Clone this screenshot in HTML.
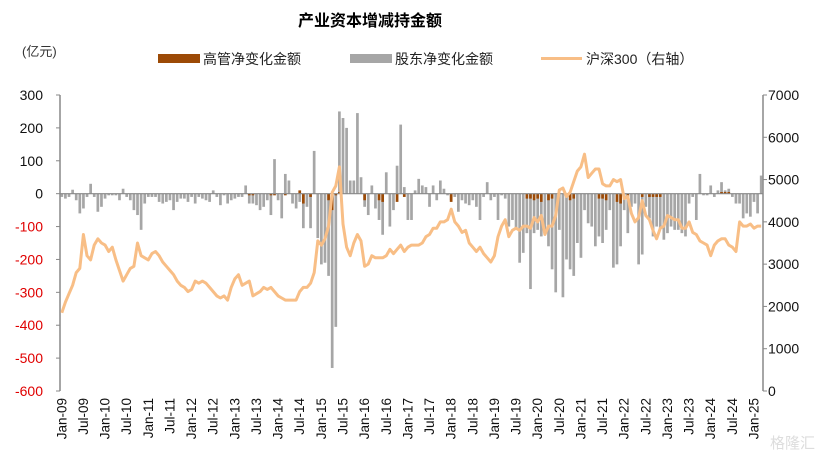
<!DOCTYPE html>
<html><head><meta charset="utf-8"><style>
body{margin:0;background:#fff;}
svg{display:block;font-family:"Liberation Sans","Noto Sans CJK SC",sans-serif;}
</style></head><body>
<svg id="chart" width="830" height="462" viewBox="0 0 830 462">
<text x="370" y="26" text-anchor="middle" font-size="16" font-weight="bold" fill="#000">产业资本增减持金额</text>
<text x="22" y="56" font-size="13" fill="#333">(亿元)</text>
<g>
<rect x="158" y="54" width="42" height="9" fill="#9C4A06"/>
<text x="203" y="64" font-size="14" fill="#222">高管净变化金额</text>
<rect x="350" y="54" width="42" height="9" fill="#A6A6A6"/>
<text x="395" y="64" font-size="14" fill="#222">股东净变化金额</text>
<line x1="541" y1="58.5" x2="582" y2="58.5" stroke="#F8BE86" stroke-width="3"/>
<text x="586" y="64" font-size="14" fill="#222">沪深300（右轴）</text>
</g>
<g id="plot"></g>
<text x="815" y="448" text-anchor="end" font-size="15" fill="#ddd">格隆汇</text>
</svg>
<script>
const leftTicks=[300,200,100,0,-100,-200,-300,-400,-500,-600];
const rightTicks=[0,1000,2000,3000,4000,5000,6000,7000];
const xLabels=["Jan-09","Jul-09","Jan-10","Jul-10","Jan-11","Jul-11","Jan-12","Jul-12","Jan-13","Jul-13","Jan-14","Jul-14","Jan-15","Jul-15","Jan-16","Jul-16","Jan-17","Jul-17","Jan-18","Jul-18","Jan-19","Jul-19","Jan-20","Jul-20","Jan-21","Jul-21","Jan-22","Jul-22","Jan-23","Jul-23","Jan-24","Jul-24","Jan-25"];
const holderValues=[
-10,-15,-10,12,-20,-60,-45,-10,30,-10,-55,-40,
-15,-5,-5,-5,-20,15,-10,-20,-50,-65,-110,-30,
-10,-10,-10,-25,-30,-25,-20,-50,-25,-15,-15,-25,
-10,-30,-10,-15,-20,-25,10,-10,-35,-5,-30,-20,
-15,-10,-10,25,-30,-30,-35,-50,-40,-20,-65,105,
-20,-75,60,40,-30,-45,-25,-105,-40,-105,130,-135,
-215,-210,-250,-530,-405,250,230,200,40,40,245,50,
-40,-65,25,-45,-80,-125,65,-100,-50,85,210,20,
-80,-80,10,45,25,20,-40,25,-20,40,15,-5,
-20,-10,-55,-20,-30,-35,-20,-40,-80,-10,35,-20,
-10,-80,-5,-15,-100,-80,-110,-210,-180,-120,-290,-120,
-110,-130,-110,-160,-230,-300,-110,-315,-200,-230,-250,-150,
-195,-50,-90,-100,-160,-130,-150,-110,-50,-225,-215,-160,
-50,-120,-40,-30,-215,-185,-40,-75,-130,-100,-105,-140,
-120,-100,-110,-110,-120,-130,-30,-10,-80,60,-5,-5,
25,-10,10,35,10,15,-10,-30,-30,-75,-60,-70,
-25,-60,55];
const execValues=[
0,0,0,0,0,0,0,0,0,0,0,0,
0,0,0,0,0,0,0,0,0,0,0,0,
0,0,0,0,0,0,0,0,0,0,0,0,
0,0,0,0,0,0,0,0,0,0,0,0,
0,0,0,0,-5,-5,0,0,0,0,-5,-5,
0,0,-5,0,0,0,10,-30,0,-10,0,0,
0,0,-20,-50,-5,5,0,0,0,0,0,0,
-20,0,0,0,-20,-25,0,0,0,-25,0,-10,
0,0,0,0,0,0,0,0,0,0,0,0,
-25,0,0,0,0,0,0,0,0,0,0,0,
0,0,0,0,0,0,0,0,0,-15,-15,-20,
-15,-25,0,-20,-15,0,0,0,0,-20,-15,0,
0,0,0,0,0,-15,-15,-20,0,0,-25,-30,
0,-10,0,0,0,-10,0,-10,-10,-10,-10,0,
0,0,0,0,0,0,0,0,0,0,0,0,
0,0,0,5,5,5,0,0,0,0,0,0,
0,0,0];
const csiValues=[
1850,2100,2300,2500,2800,2900,3700,3200,3100,3450,3600,3500,
3450,3300,3400,3100,2850,2600,2750,2900,2950,3500,3200,3150,
3100,3250,3300,3200,3050,2950,2850,2750,2600,2500,2450,2350,
2400,2600,2550,2600,2550,2450,2350,2250,2200,2250,2150,2450,
2650,2750,2500,2550,2600,2250,2300,2350,2450,2400,2450,2350,
2250,2200,2150,2150,2150,2150,2350,2450,2450,2550,2800,3550,
3450,3600,3900,4700,4850,5300,3950,3400,3200,3500,3700,3550,
2950,3000,3200,3150,3150,3150,3200,3350,3250,3350,3450,3300,
3400,3450,3450,3450,3500,3650,3700,3850,3850,4000,4000,4050,
4300,4000,3900,3750,3800,3500,3400,3300,3400,3250,3150,3050,
3200,3650,3900,4050,3650,3800,3850,3800,3900,3900,3850,4100,
4000,4150,3700,3900,3900,4150,4750,4800,4600,4700,4950,5200,
5300,5600,5050,5150,5250,5250,4900,4850,4850,5000,4950,5000,
4550,4600,4200,4000,4100,4500,4150,4050,3800,3600,3850,3900,
4150,4100,4050,4050,3850,3850,4000,3750,3700,3550,3500,3450,
3200,3450,3550,3600,3600,3450,3400,3300,4000,3900,3900,3950,
3850,3900,3900];

const NS="http://www.w3.org/2000/svg";
const plot=document.getElementById('plot');
const X0=60,X1=763,YT=95,YB=391;
const N=holderValues.length;
const step=(X1-X0)/N;
function xPos(i){return X0+(i+0.5)*step;}
function yL(v){return YT+(300-v)/900*(YB-YT);}
function yR(v){return YB-v/7000*(YB-YT);}
function mk(tag,attrs){const e=document.createElementNS(NS,tag);for(const k in attrs)e.setAttribute(k,attrs[k]);plot.appendChild(e);return e;}

let a=mk('line',{x1:X0,y1:YT,x2:X0,y2:YB,stroke:'#888','stroke-width':1.5});


a=mk('line',{x1:X1,y1:YT,x2:X1,y2:YB,stroke:'#888','stroke-width':1.5});


leftTicks.forEach(v=>{
  const y=yL(v);
  const t=mk('line',{x1:X0-4,y1:y,x2:X0,y2:y,stroke:'#888'});
  
  
  const tx=mk('text',{x:X0-17,y:y+5,'text-anchor':'end','font-size':14,fill:v<0?'#E00000':'#111'});
  tx.textContent=v;
  
  
});
rightTicks.forEach(v=>{
  const y=yR(v);
  const t=mk('line',{x1:X1,y1:y,x2:X1+4,y2:y,stroke:'#888'});
  
  
  const tx=mk('text',{x:X1+5,y:y+5,'font-size':14,fill:'#111'});
  tx.textContent=v;
  
  
});
xLabels.forEach((l,k)=>{
  const x=xPos(k*6);
  const tx=mk('text',{x:0,y:0,'text-anchor':'end','font-size':13.5,fill:'#111',transform:`translate(${x+4.5},398) rotate(-90)`});
  tx.textContent=l;
  
  
});
const bw=step*0.75;
const y0=yL(0);
holderValues.forEach((v,i)=>{
  const y=yL(v);
  const r=mk('rect',{x:xPos(i)-bw/2,y:Math.min(y,y0),width:bw,height:Math.max(0.5,Math.abs(y-y0)),fill:'#A6A6A6'});
  
  
});
execValues.forEach((v,i)=>{
  if(!v)return;
  const y=yL(v);
  const r=mk('rect',{x:xPos(i)-bw/2,y:Math.min(y,y0),width:bw,height:Math.abs(y-y0),fill:'#9C4A06'});
  
  
});
const zl=mk('line',{x1:X0,y1:y0,x2:X1,y2:y0,stroke:'#888','stroke-width':1.2});


const pts=csiValues.map((v,i)=>xPos(i).toFixed(1)+','+yR(v).toFixed(1)).join(' ');
const pl=mk('polyline',{points:pts,fill:'none',stroke:'#F8BE86','stroke-width':3,'stroke-linejoin':'round'});


</script>
</body></html>
